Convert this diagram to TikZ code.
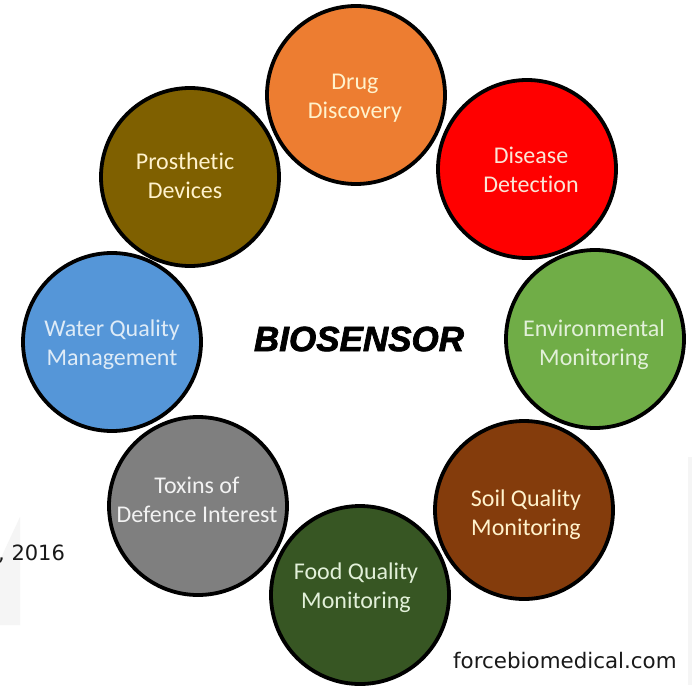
\documentclass[tikz,border=0pt]{standalone}
\usepackage{fontspec}
\setmainfont[Ligatures={NoCommon}]{Carlito}
\newfontfamily\webfont{DejaVu Sans}
\newfontfamily\titlefont[BoldItalicFeatures={FakeBold=2}]{Liberation Sans}

% fills of the eight application circles
\definecolor{cDrug}{HTML}{ED7D31}
\definecolor{cDisease}{HTML}{FF0000}
\definecolor{cEnv}{HTML}{70AD47}
\definecolor{cSoil}{HTML}{843C0C}
\definecolor{cFood}{HTML}{375623}
\definecolor{cToxin}{HTML}{7F7F7F}
\definecolor{cWater}{HTML}{5596D8}
\definecolor{cProst}{HTML}{7F6000}
% light label tints
\definecolor{tCream}{HTML}{FFF2CC}
\definecolor{tPink}{HTML}{FBE5D6}
\definecolor{tGreen}{HTML}{E2F0D9}
\definecolor{tBlue}{HTML}{DEEBF7}
\definecolor{tGrey}{HTML}{F2F2F2}
\definecolor{faint}{HTML}{F5F5F5}

\tikzset{
  appcircle/.style={circle, draw=black, line width=3.8pt, minimum size=178pt, inner sep=0pt},
  applabel/.style={align=center, inner sep=0pt, font=\fontsize{24}{29}\selectfont},
}

\begin{document}
\begin{tikzpicture}[x=1pt, y=-1pt]
\useasboundingbox (0,0) rectangle (692,685);
\fill[white] (0,0) rectangle (692,685);

% faint background pieces at the edges
\fill[faint] (0,560) -- (20,517) -- (20,625) -- (0,625) -- cycle;
\fill[faint] (688,457) rectangle (692,685);

% circles around the ring
\node[appcircle, fill=cProst]   (prost)   at (190,177) {};
\node[appcircle, fill=cDrug]    (drug)    at (356,95)  {};
\node[appcircle, fill=cDisease] (disease) at (527,169) {};
\node[appcircle, fill=cEnv]     (env)     at (595,339) {};
\node[appcircle, fill=cSoil]    (soil)    at (524,510) {};
\node[appcircle, fill=cFood]    (food)    at (360,595) {};
\node[appcircle, fill=cToxin]   (toxin)   at (198,506) {};
\node[appcircle, fill=cWater]   (water)   at (112,342) {};

% circle labels
\node[applabel, text=tCream] (lprost)   at (185,176) {Prosthetic\\Devices};
\node[applabel, text=tCream] (ldrug)    at (355,98)  {Drug\\Discovery};
\node[applabel, text=tPink]  (ldisease) at (531,170) {Disease\\Detection};
\node[applabel, text=tGreen] (lenv)     at (594,345) {Environmental\\Monitoring};
\node[applabel, text=tCream] (lsoil)    at (526,515) {Soil Quality\\Monitoring};
\node[applabel, text=tGreen] (lfood)    at (356,588) {Food Quality\\Monitoring};
\node[applabel, text=tGrey]  (ltoxin)   at (197,500) {Toxins of\\Defence Interest};
\node[applabel, text=tBlue]  (lwater)   at (112,345) {Water Quality\\Management};

% centre title
\node[font=\titlefont\bfseries\itshape\fontsize{35}{40}\selectfont, text=black] (title) at (359,339) {BIOSENSOR};

% credits
\node[font=\webfont\fontsize{21}{25}\selectfont, anchor=base west, inner sep=0pt, text=black!90] (year) at (-2,560) {, 2016};
\node[font=\webfont\fontsize{21.4}{25}\selectfont, anchor=base west, inner sep=0pt, text=black!90] (site) at (453,668) {forcebiomedical.com};
\end{tikzpicture}
\end{document}
